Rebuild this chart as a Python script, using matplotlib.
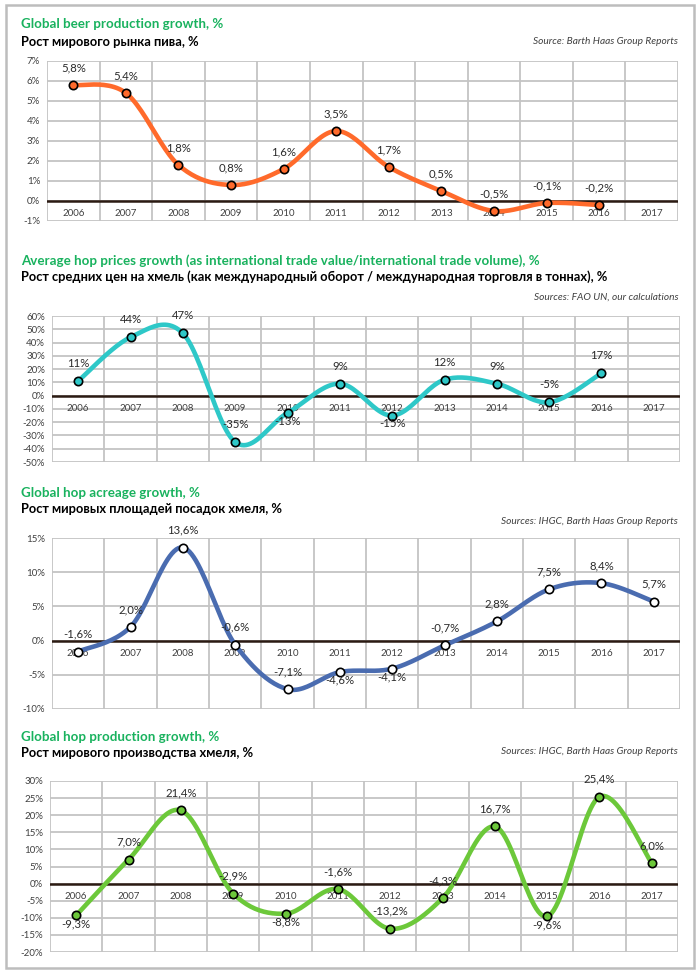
import numpy as np
import matplotlib
matplotlib.use("Agg")
import matplotlib.pyplot as plt
from matplotlib.patches import Rectangle

plt.rcParams['font.family'] = ['Lato', 'DejaVu Sans']

years = ["2006", "2007", "2008", "2009", "2010", "2011", "2012", "2013", "2014", "2015", "2016", "2017"]

# beer production growth, % (2006-2016)
beer = [5.8, 5.4, 1.8, 0.8, 1.6, 3.5, 1.7, 0.5, -0.5, -0.1, -0.2]
# hop prices growth, % (2006-2016)
prices = [11, 44, 47, -35, -13, 9, -15, 12, 9, -5, 17]
# hop acreage growth, % (2006-2017)
acreage = [-1.6, 2.0, 13.6, -0.6, -7.1, -4.6, -4.1, -0.7, 2.8, 7.5, 8.4, 5.7]
# hop production growth, % (2006-2017)
production = [-9.3, 7.0, 21.4, -2.9, -8.8, -1.6, -13.2, -4.3, 16.7, -9.6, 25.4, 6.0]

W, H = 700, 974
green = "#19B25E"


def smooth(x, y, n=25):
    # excel-like smoothed line (bezier through the points)
    pts = np.column_stack([x, y]).astype(float)
    P = np.vstack([pts[0], pts, pts[-1]])
    t = np.linspace(0, 1, n)[:, None]
    out = []
    for i in range(1, len(P) - 2):
        p0, p1, p2, p3 = P[i - 1], P[i], P[i + 1], P[i + 2]
        c1 = p1 + (p2 - p0) / 6
        c2 = p2 - (p3 - p1) / 6
        out.append((1 - t) ** 3 * p1 + 3 * (1 - t) ** 2 * t * c1 + 3 * (1 - t) * t ** 2 * c2 + t ** 3 * p2)
    return np.vstack(out)


def fmt(v, dec):
    if dec == 0:
        return "%d%%" % v
    return ("%.1f%%" % v).replace(".", ",")


def panel(box, values, ylim, ystep, color, face, below, dec):
    x0, y0, x1, y1 = box
    ax = fig.add_axes([x0 / W, 1 - y1 / H, (x1 - x0) / W, (y1 - y0) / H])
    ax.set_xlim(-0.5, len(years) - 0.5)
    ax.set_ylim(*ylim)
    ticks = np.arange(ylim[0], ylim[1] + ystep / 2, ystep)
    ax.set_yticks(ticks)
    ax.set_yticklabels(["%d%%" % t for t in ticks], fontsize=7, color="#404040")
    ax.set_xticks(np.arange(-0.5, len(years), 1))
    ax.set_xticklabels([])
    ax.tick_params(length=0, pad=5)
    ax.grid(True, color="#C4C4C4", lw=1.3)
    ax.set_axisbelow(True)
    for s in ax.spines.values():
        s.set_visible(False)
    ax.axhline(0, color="#2B1A12", lw=1.8, zorder=2)
    for i, yr in enumerate(years):
        ax.annotate(yr, (i, 0), xytext=(0, -9), textcoords="offset points",
                    ha="center", va="center", fontsize=7, color="#404040", zorder=3)
    xs = np.arange(len(values))
    curve = smooth(xs, values)
    ax.plot(curve[:, 0], curve[:, 1], color=color, lw=3.3, solid_capstyle="round", zorder=4)
    ax.plot(xs, values, "o", ms=6, mfc=face, mec="black", mew=1.2, zorder=5)
    for i, v in enumerate(values):
        dy = -6 if i in below else 12.5
        ax.annotate(fmt(v, dec), (i, v), xytext=(0, dy), textcoords="offset points",
                    ha="center", va="center", fontsize=8.2, color="#2A2A2A", zorder=6)
    return ax


fig = plt.figure(figsize=(W / 100, H / 100), dpi=100)
fig.add_artist(Rectangle((6 / W, 1 - 968 / H), 688 / W, 963 / H, transform=fig.transFigure,
                         fill=False, ec="#BDBDBD", lw=1.8))


def titles(y_green, y_black, y_src, t_en, t_ru, src):
    fig.text(21 / W, 1 - y_green / H, t_en, color=green, fontsize=9.6, fontweight="bold", va="center")
    fig.text(21 / W, 1 - y_black / H, t_ru, color="black", fontsize=9.3, fontweight="bold", va="center")
    fig.text(678 / W, 1 - y_src / H, src, color="#404040", fontsize=7.3, style="italic", ha="right", va="center")


titles(24, 42, 42, "Global beer production growth, %", "Рост мирового рынка пива, %",
       "Source: Barth Haas Group Reports")
panel((47, 61, 678, 221), beer, (-1, 7), 1, "#FF6A2B", "#FF6A2B", [], 1)

titles(261, 277, 297,
       "Average hop prices growth (as international trade value/international trade volume), %",
       "Рост средних цен на хмель (как международный оборот / международная торговля в тоннах), %",
       "Sources: FAO UN, our calculations")
panel((52, 316, 680, 462), prices, (-50, 60), 10, "#2EC8C8", "#2EC8C8", [4, 6], 0)

titles(493, 509, 521, "Global hop acreage growth, %", "Рост мировых площадей посадок хмеля, %",
       "Sources: IHGC, Barth Haas Group Reports")
panel((52, 538, 680, 709), acreage, (-10, 15), 5, "#4A6CB0", "white", [5, 6], 1)

titles(737, 753, 751, "Global hop production growth, %", "Рост мирового производства хмеля, %",
       "Sources: IHGC, Barth Haas Group Reports")
panel((50, 781, 678, 952), production, (-20, 30), 5, "#6CC83A", "#6CC83A", [0, 4, 9], 1)

fig.savefig("out.png", dpi=100)
